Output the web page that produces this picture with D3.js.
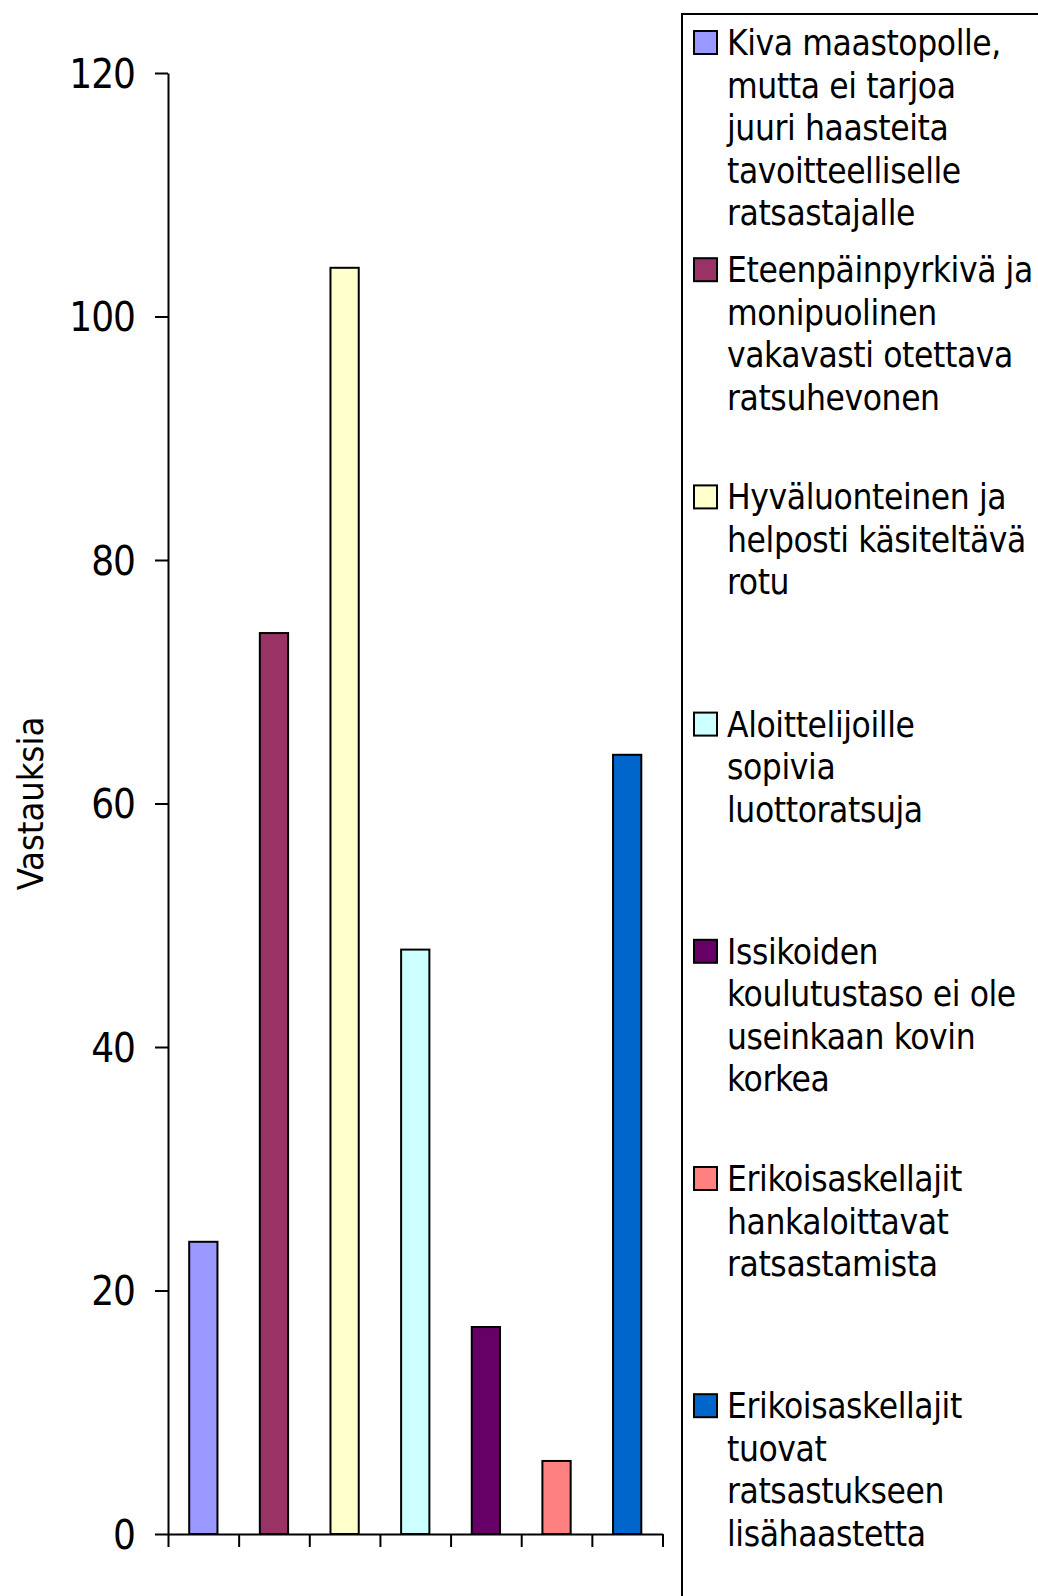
<!DOCTYPE html>
<html>
<head>
<meta charset="utf-8">
<script src="https://cdn.jsdelivr.net/npm/d3@7"></script>
<style>
  body { margin: 0; background: #fff; }
  svg { display: block; }
  text { font-family: "DejaVu Sans Condensed", "DejaVu Sans", sans-serif; fill: #000; }
</style>
</head>
<body>
<div id="wrapper"></div>
<script>
// data
const categories = [
  "Kiva maastopolle,\nmutta ei tarjoa\njuuri haasteita\ntavoitteelliselle\nratsastajalle",
  "Eteenpäinpyrkivä ja\nmonipuolinen\nvakavasti otettava\nratsuhevonen",
  "Hyväluonteinen ja\nhelposti käsiteltävä\nrotu",
  "Aloittelijoille\nsopivia\nluottoratsuja",
  "Issikoiden\nkoulutustaso ei ole\nuseinkaan kovin\nkorkea",
  "Erikoisaskellajit\nhankaloittavat\nratsastamista",
  "Erikoisaskellajit\ntuovat\nratsastukseen\nlisähaastetta"
];
const values = [24, 74, 104, 48, 17, 6, 64];
const colors = ["#9999FF", "#993366", "#FFFFCC", "#CCFFFF", "#660066", "#FF8080", "#0066CC"];
const yTicks = [0, 20, 40, 60, 80, 100, 120];
const yTitle = "Vastauksia";

const W = 1038, H = 1596;
const plot = {left: 168, right: 662.5, top: 73, bottom: 1534};

const svg = d3.select("#wrapper")
  .append("svg")
  .attr("width", W)
  .attr("height", H);

const xScale = d3.scaleBand()
  .domain(d3.range(categories.length))
  .range([plot.left, plot.right])
  .padding(0);

const xTickScale = d3.scaleLinear()
  .domain([0, categories.length])
  .range([plot.left, plot.right]);

const yScale = d3.scaleLinear()
  .domain([0, 120])
  .range([plot.bottom, plot.top]);

// bars
const bw = xScale.bandwidth();
svg.append("g").selectAll("rect")
  .data(values)
  .enter()
  .append("rect")
  .attr("x", (d, i) => xScale(i) + bw * 0.3)
  .attr("width", bw * 0.4)
  .attr("y", d => yScale(d))
  .attr("height", d => yScale(0) - yScale(d))
  .attr("fill", (d, i) => colors[i])
  .attr("stroke", "#000")
  .attr("stroke-width", 2);

// y axis
const yAxis = d3.axisLeft(yScale)
  .tickValues(yTicks)
  .tickSize(13)
  .tickSizeOuter(0)
  .tickPadding(20);

const gy = svg.append("g")
  .attr("transform", "translate(" + plot.left + ",0)")
  .call(yAxis);
gy.selectAll("path, line").attr("stroke", "#000").attr("stroke-width", 2);
gy.selectAll("text")
  .style("font-size", "40px")
  .style("letter-spacing", "-1px")
  .attr("fill", "#000")
  .attr("dy", "0.36em");

// x axis - ticks at category boundaries
const xAxis = d3.axisBottom(xTickScale)
  .tickValues(d3.range(categories.length + 1))
  .tickFormat("")
  .tickSize(13)
  .tickSizeOuter(0);

const gx = svg.append("g")
  .attr("transform", "translate(0," + plot.bottom + ")")
  .call(xAxis);
gx.selectAll("path, line").attr("stroke", "#000").attr("stroke-width", 2);

// y title
svg.append("text")
  .attr("transform", "translate(43," + ((plot.top + plot.bottom) / 2) + ") rotate(-90)")
  .attr("text-anchor", "middle")
  .style("font-size", "36px")
  .text(yTitle);

// legend
svg.append("rect")
  .attr("x", 682)
  .attr("y", 14)
  .attr("width", 500)
  .attr("height", 1700)
  .attr("fill", "none")
  .attr("stroke", "#000")
  .attr("stroke-width", 2);

const legendY = d3.scaleLinear().domain([0, 1]).range([55, 282.2]);
const lineH = 42.5;

const items = svg.selectAll(".legend-item")
  .data(categories)
  .enter()
  .append("g")
  .attr("class", "legend-item")
  .attr("transform", (d, i) => "translate(0," + legendY(i) + ")");

items.append("rect")
  .attr("x", 694)
  .attr("y", -24)
  .attr("width", 23)
  .attr("height", 23)
  .attr("fill", (d, i) => colors[i])
  .attr("stroke", "#000")
  .attr("stroke-width", 2);

items.append("text")
  .style("font-size", "35px")
  .style("letter-spacing", "-0.4px")
  .selectAll("tspan")
  .data(d => d.split("\n"))
  .enter()
  .append("tspan")
  .attr("x", 727)
  .attr("y", (d, j) => j * lineH)
  .text(d => d);
</script>
</body>
</html>
